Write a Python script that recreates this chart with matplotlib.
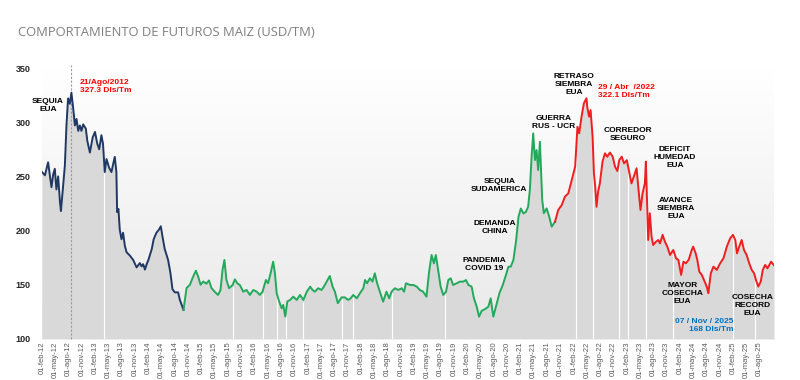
"""
Comportamiento de futuros de maiz (USD/TM), 2012 - 2025.

Linea de precios coloreada por periodo, area gris bajo la curva y notas
con los eventos principales del mercado.
"""

import numpy as np
import pandas as pd
import matplotlib
matplotlib.use('Agg')
import matplotlib.pyplot as plt
import matplotlib.dates as mdates
from matplotlib.colors import LinearSegmentedColormap

# Precios (USD/TM)
FECHAS = [
    '2012-02-01', '2012-02-21', '2012-03-14', '2012-03-25', '2012-04-06',
    '2012-04-18', '2012-04-29', '2012-05-10', '2012-05-22', '2012-06-03',
    '2012-06-10', '2012-06-21', '2012-07-07', '2012-07-18', '2012-07-29',
    '2012-08-10', '2012-08-21', '2012-09-03', '2012-09-14', '2012-09-25',
    '2012-10-07', '2012-10-18', '2012-10-29', '2012-11-10', '2012-11-28',
    '2012-12-08', '2012-12-26', '2013-01-14', '2013-01-30', '2013-02-15',
    '2013-02-28', '2013-03-15', '2013-03-26', '2013-04-07', '2013-04-19',
    '2013-05-07', '2013-05-23', '2013-06-03', '2013-06-15', '2013-06-26',
    '2013-07-01', '2013-07-10', '2013-07-19', '2013-07-31', '2013-08-11',
    '2013-08-23', '2013-09-04', '2013-09-26', '2013-10-19', '2013-11-12',
    '2013-12-04', '2013-12-16', '2013-12-27', '2014-01-08', '2014-01-20',
    '2014-02-01', '2014-02-24', '2014-03-09', '2014-03-28', '2014-04-15',
    '2014-04-27', '2014-05-08', '2014-05-24', '2014-06-16', '2014-07-02',
    '2014-07-16', '2014-08-01', '2014-08-24', '2014-09-05', '2014-09-30',
    '2014-10-21', '2014-11-13', '2014-12-05', '2014-12-24', '2015-01-09',
    '2015-01-25', '2015-02-13', '2015-03-06', '2015-03-24', '2015-04-10',
    '2015-05-02', '2015-05-25', '2015-06-11', '2015-06-25', '2015-07-08',
    '2015-07-22', '2015-08-09', '2015-09-02', '2015-09-18', '2015-10-04',
    '2015-10-22', '2015-11-14', '2015-12-07', '2015-12-30', '2016-01-22',
    '2016-02-15', '2016-03-07', '2016-03-26', '2016-04-18', '2016-05-03',
    '2016-05-20', '2016-06-07', '2016-06-19', '2016-07-01', '2016-07-18',
    '2016-08-04', '2016-08-15', '2016-08-29', '2016-09-12', '2016-10-01',
    '2016-10-23', '2016-11-16', '2016-12-08', '2016-12-31', '2017-01-24',
    '2017-02-16', '2017-03-04', '2017-03-20', '2017-04-12', '2017-05-05',
    '2017-05-21', '2017-06-09', '2017-07-01', '2017-07-20', '2017-08-05',
    '2017-08-25', '2017-09-20', '2017-10-12', '2017-11-04', '2017-11-21',
    '2017-12-09', '2018-01-02', '2018-01-24', '2018-02-16', '2018-02-28',
    '2018-03-14', '2018-04-02', '2018-04-20', '2018-05-06', '2018-05-22',
    '2018-06-10', '2018-07-02', '2018-07-25', '2018-08-13', '2018-08-29',
    '2018-09-21', '2018-10-14', '2018-11-07', '2018-11-23', '2018-12-06',
    '2019-01-03', '2019-01-26', '2019-02-18', '2019-03-11', '2019-04-03',
    '2019-04-26', '2019-05-14', '2019-05-31', '2019-06-16', '2019-06-29',
    '2019-07-15', '2019-08-01', '2019-08-19', '2019-09-07', '2019-09-23',
    '2019-10-09', '2019-10-26', '2019-11-19', '2019-12-12', '2020-01-04',
    '2020-01-22', '2020-02-08', '2020-03-01', '2020-03-17', '2020-04-05',
    '2020-04-21', '2020-05-09', '2020-06-01', '2020-06-24', '2020-07-10',
    '2020-07-28', '2020-08-15', '2020-09-08', '2020-10-01', '2020-10-23',
    '2020-11-09', '2020-11-25', '2020-12-13', '2021-01-01', '2021-01-17',
    '2021-02-02', '2021-02-20', '2021-03-09', '2021-03-24', '2021-04-05',
    '2021-04-17', '2021-04-28', '2021-05-10', '2021-05-21', '2021-06-01',
    '2021-06-13', '2021-06-20', '2021-06-29', '2021-07-10', '2021-07-29',
    '2021-08-16', '2021-09-02', '2021-09-25', '2021-10-17', '2021-11-10',
    '2021-12-02', '2021-12-25', '2022-01-18', '2022-02-10', '2022-02-26',
    '2022-03-10', '2022-03-26', '2022-04-11', '2022-04-29', '2022-05-04',
    '2022-05-17', '2022-05-27', '2022-06-10', '2022-06-19', '2022-06-28',
    '2022-07-07', '2022-07-18', '2022-07-30', '2022-08-17', '2022-09-03',
    '2022-09-19', '2022-10-07', '2022-10-26', '2022-11-11', '2022-11-27',
    '2022-12-10', '2022-12-27', '2023-01-12', '2023-01-31', '2023-02-18',
    '2023-03-04', '2023-03-20', '2023-04-08', '2023-04-26', '2023-05-05',
    '2023-05-19', '2023-06-04', '2023-06-11', '2023-06-20', '2023-06-27',
    '2023-07-08', '2023-07-20', '2023-07-31', '2023-08-19', '2023-09-04',
    '2023-09-16', '2023-10-04', '2023-10-20', '2023-11-05', '2023-11-24',
    '2023-12-16', '2024-01-04', '2024-01-20', '2024-02-08', '2024-02-24',
    '2024-03-12', '2024-03-31', '2024-04-21', '2024-05-01', '2024-05-18',
    '2024-05-29', '2024-06-12', '2024-06-29', '2024-07-14', '2024-08-02',
    '2024-08-13', '2024-08-30', '2024-09-17', '2024-10-10', '2024-11-02',
    '2024-11-25', '2024-12-18', '2025-01-10', '2025-01-29', '2025-02-14',
    '2025-02-26', '2025-03-13', '2025-03-30', '2025-04-15', '2025-05-03',
    '2025-05-21', '2025-06-07', '2025-06-23', '2025-07-06', '2025-07-22',
    '2025-08-08', '2025-08-22', '2025-09-07', '2025-09-23', '2025-10-06',
    '2025-10-18', '2025-11-07',
]

PRECIOS = [
    254, 251, 263, 252, 240, 252, 257, 238, 250, 227,
    218, 235, 260, 297, 322, 317, 327.3, 312, 297, 303,
    292, 297, 292, 298, 294, 283, 272, 286, 291, 280,
    275, 288, 280, 254, 266, 258, 254, 261, 268, 254,
    217, 220, 201, 192, 198, 186, 180, 177, 173, 166,
    170, 167, 169, 164, 169, 173, 183, 192, 198, 201,
    204, 195, 183, 173, 161, 146, 143, 143, 136, 126.8,
    147, 150, 157.5, 163, 157.5, 150, 153, 151, 154, 147,
    143.6, 140.6, 145, 163.7, 172.9, 154.4, 146.8, 149.8, 155, 151.4,
    149.8, 143.6, 145.2, 140.6, 145.2, 143.6, 140.6, 143.6, 154.4, 151.4,
    160.6, 171.3, 160.6, 142.2, 134.6, 128.3, 131.4, 120.6, 134.6, 136,
    139, 136, 140.6, 136, 143.6, 148.3, 145.2, 143.6, 146.8, 145.2,
    148.3, 152.9, 158.1, 148.3, 143.6, 133, 138.4, 138.4, 136, 137.5,
    140.6, 137.5, 142.2, 146.8, 154.4, 151.4, 156, 153, 160.6, 151.4,
    143.6, 134.4, 143.6, 137.5, 143.6, 146.8, 145.2, 146.8, 143.6, 151.4,
    149.8, 149.8, 148.3, 145.2, 143.6, 139, 162.1, 177.5, 169.8, 177.5,
    163.7, 148.3, 140.6, 143.6, 154.4, 156, 149.8, 151.4, 152.9, 152.9,
    154.4, 149.8, 148.3, 137.5, 129.8, 120.6, 126, 127.5, 129.8, 137.5,
    120.6, 129.8, 142.2, 149.8, 159.1, 166.7, 166.7, 172.9, 191.3, 212.8,
    220.4, 215.8, 217.3, 221.9, 237.5, 268.2, 289.7, 265.1, 274.3, 255.9,
    282, 259, 228.2, 216, 220.5, 212.8, 203.6, 208.2, 219, 223.6,
    231.3, 234.3, 246.7, 259, 295.8, 289.7, 305.1, 317.4, 322.1, 314.3,
    305.1, 311.2, 286.6, 252.9, 240.5, 222, 236, 243.6, 263.6, 271.3,
    268.2, 272, 268.2, 259, 255, 265, 268.2, 262, 265, 252.9,
    243.6, 249.8, 257.5, 231.3, 219, 234.3, 243.6, 263.6, 222, 191.3,
    216, 194.4, 186.7, 189.7, 191.3, 188.2, 196, 189.7, 185.2, 177.5,
    182.1, 174.5, 172.9, 159.1, 171.3, 169.8, 173, 182.1, 185.2, 179,
    173, 162.1, 159.1, 154.4, 148.3, 142.2, 160.6, 166.7, 163.7, 169.8,
    174.5, 185.2, 192.9, 196, 191.3, 179, 185.2, 191.3, 182.1, 177.5,
    169.8, 163.7, 160.6, 154.4, 148.3, 153, 163.7, 168.3, 165.2, 168.3,
    171.3, 168,
]

# Cambios de color de la linea
INICIO_VERDE = '2014-09-30'
INICIO_ROJO = '2021-09-25'

# Fechas donde el area gris tiene un corte blanco
CORTES = ['2013-04-01', '2015-09-02', '2016-03-26', '2016-07-01',
          '2016-09-01', '2016-12-31', '2017-09-20', '2017-12-09',
          '2018-09-01', '2019-09-01', '2022-02-15', '2022-06-12',
          '2022-12-05', '2023-02-10', '2023-06-10', '2023-12-12',
          '2025-02-01', '2025-07-01']

MESES = ['ene', 'feb', 'mar', 'abr', 'may', 'jun',
         'jul', 'ago', 'sep', 'oct', 'nov', 'dic']

# Notas: (texto, fecha, valor, alineacion, color)
NOTAS = [
    ('SEQUIA\nEUA', '2012-03-12', 315, 'center', 'black'),
    ('21/Ago/2012\n327.3 Dls/Tm', '2012-10-18', 333.4, 'left', '#ff0000'),
    ('RETRASO\nSIEMBRA\nEUA', '2022-02-03', 335.2, 'center', 'black'),
    ('29 / Abr  /2022\n322.1 Dls/Tm', '2022-07-16', 328.3, 'left', '#ff0000'),
    ('GUERRA\nRUS - UCR', '2021-09-18', 299.7, 'center', 'black'),
    ('CORREDOR\nSEGURO', '2023-02-09', 289, 'center', 'black'),
    ('DEFICIT\nHUMEDAD\nEUA', '2023-12-28', 267.4, 'center', 'black'),
    ('SEQUIA\nSUDAMERICA', '2020-09-07', 241.6, 'center', 'black'),
    ('AVANCE\nSIEMBRA\nEUA', '2024-01-04', 220.4, 'center', 'black'),
    ('DEMANDA\nCHINA', '2020-08-09', 202.9, 'center', 'black'),
    ('PANDEMIA\nCOVID 19', '2020-05-24', 168.7, 'center', 'black'),
    ('MAYOR\nCOSECHA\nEUA', '2024-02-15', 142, 'center', 'black'),
    ('COSECHA\nRECORD\nEUA', '2025-06-10', 130.9, 'center', 'black'),
    ('07 / Nov / 2025\n168 Dls/Tm', '2025-02-01', 112.5, 'right', '#0070c0'),
]

fechas = pd.to_datetime(FECHAS)
precios = np.array(PRECIOS)
x_num = mdates.date2num(fechas)

fig = plt.figure(figsize=(8, 3.8), dpi=100)
ax = fig.add_axes([0.0525, 0.108, 0.915, 0.713])

y_min, y_max = 100, 350
x_min, x_max = x_num[0], x_num[-1]

# Fondo degradado: blanco arriba, gris claro abajo
fondo = LinearSegmentedColormap.from_list('fondo', ['#ffffff', '#e9e9e9'])
ax.imshow(np.linspace(1, 0, 256)[:, None], cmap=fondo, aspect='auto',
          origin='lower', extent=[x_min, x_max, y_min, y_max], zorder=0)

# Area bajo la curva
ax.fill_between(x_num, y_min, precios, color='#d9d9d9', lw=0, zorder=1)

# Cortes blancos en el area
cortes = mdates.date2num(pd.to_datetime(CORTES))
ax.vlines(cortes, y_min, np.interp(cortes, x_num, precios) - 1.5,
          color='white', lw=0.8, zorder=2)

# Linea punteada del maximo de 2012
ax.vlines(mdates.date2num(pd.Timestamp('2012-08-21')), y_min, y_max + 3,
          color='#9a9a9a', lw=0.8, linestyles=(0, (2, 1.5)), zorder=3,
          clip_on=False)

# Linea de precios en tres tramos
verde = mdates.date2num(pd.Timestamp(INICIO_VERDE))
rojo = mdates.date2num(pd.Timestamp(INICIO_ROJO))
tramos = [(x_num <= verde, '#203864'),
          ((x_num >= verde) & (x_num <= rojo), '#22a95a'),
          (x_num >= rojo, '#f01e1e')]
for mask, color in tramos:
    ax.plot(x_num[mask], precios[mask], color=color, lw=1.4, zorder=4)

# Notas de eventos
for texto, fecha, valor, ha, color in NOTAS:
    ax.text(mdates.date2num(pd.Timestamp(fecha)), valor, texto,
            ha=ha, va='center', color=color, fontsize=6, fontweight='bold',
            family='Liberation Sans', zorder=5)

ax.set_xlim(x_min, x_max)
ax.set_ylim(y_min, y_max)

# Ejes
ticks = pd.date_range('2012-02-01', '2025-08-01', freq='3MS')
ax.set_xticks(mdates.date2num(ticks))
ax.set_xticklabels(['01-%s-%s' % (MESES[t.month - 1], t.strftime('%y'))
                    for t in ticks],
                   rotation=90, fontsize=5.5, color='#595959',
                   family='Liberation Sans')
ax.set_yticks(np.arange(100, 351, 50))
ax.set_yticklabels([str(v) for v in range(100, 351, 50)], fontsize=6.5,
                   color='#262626', family='Liberation Sans',
                   fontweight='bold')
ax.tick_params(axis='both', length=0)
ax.tick_params(axis='y', pad=8)
ax.tick_params(axis='x', pad=2)
for spine in ax.spines.values():
    spine.set_visible(False)

fig.text(18 / 800, 1 - 33 / 380, 'COMPORTAMIENTO DE FUTUROS MAIZ (USD/TM)',
         fontsize=9.4, color='#7f7f7f', family='Open Sans', va='center')

plt.savefig('out.png', dpi=100)
